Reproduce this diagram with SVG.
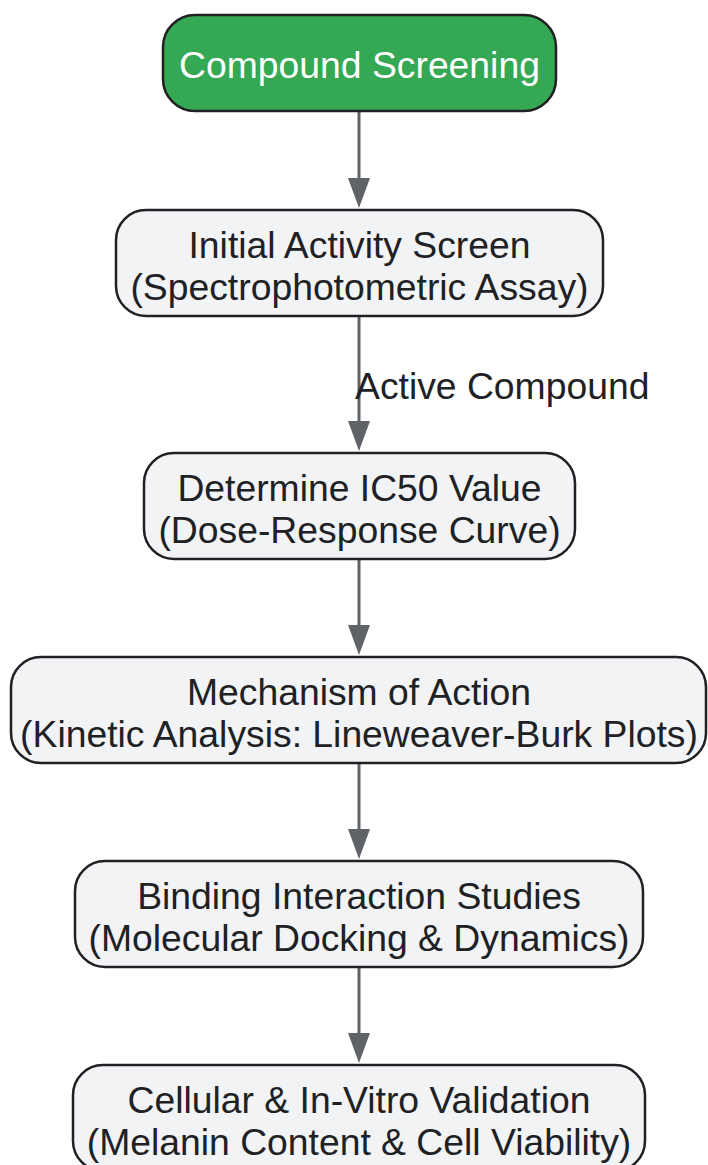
<svg xmlns="http://www.w3.org/2000/svg" width="708" height="1165" viewBox="0 0 708 1165">
<style>
.node rect{fill:#f1f3f4;stroke:#202124;stroke-width:2.5}
.start rect{fill:#34a853;stroke:#202124;stroke-width:2.5}
text{font-family:"Liberation Sans",Arial,sans-serif;font-size:37.3px;fill:#202124;text-anchor:middle;dominant-baseline:central}
.start text{fill:#ffffff}
.edge{stroke:#5f6368;stroke-width:3;fill:none}
.head{fill:#5f6368}
.lbl{text-anchor:start}
</style>
<g id="connectors">
<path class="edge" d="M359,111 L359,178"/><path class="head" d="M348,178 L370,178 L359,208 Z"/>
<path class="edge" d="M359,316 L359,421"/><path class="head" d="M348,421 L370,421 L359,451 Z"/>
<path class="edge" d="M359,559 L359,625"/><path class="head" d="M348,625 L370,625 L359,655 Z"/>
<path class="edge" d="M359,763 L359,829"/><path class="head" d="M348,829 L370,829 L359,859 Z"/>
<path class="edge" d="M359,967 L359,1033"/><path class="head" d="M348,1033 L370,1033 L359,1063 Z"/>
<text class="lbl" x="355" y="386">Active Compound</text>
</g>
<g id="n1" class="start">
<rect x="163" y="15" width="393" height="96" rx="32"/>
<text x="359.5" y="65">Compound Screening</text>
</g>
<g id="n2" class="node">
<rect x="116" y="210" width="487" height="106" rx="30"/>
<text x="359.5" y="245">Initial Activity Screen</text>
<text x="359.5" y="287">(Spectrophotometric Assay)</text>
</g>
<g id="n3" class="node">
<rect x="144" y="453" width="431" height="106" rx="30"/>
<text x="359.5" y="488">Determine IC50 Value</text>
<text x="359.5" y="530">(Dose-Response Curve)</text>
</g>
<g id="n4" class="node">
<rect x="11" y="657" width="695" height="106" rx="30"/>
<text x="359" y="692">Mechanism of Action</text>
<text x="359" y="734">(Kinetic Analysis: Lineweaver-Burk Plots)</text>
</g>
<g id="n5" class="node">
<rect x="75" y="861" width="568" height="106" rx="30"/>
<text x="359" y="896">Binding Interaction Studies</text>
<text x="359" y="938">(Molecular Docking &amp; Dynamics)</text>
</g>
<g id="n6" class="node">
<rect x="73" y="1065" width="572" height="106" rx="30"/>
<text x="359" y="1100">Cellular &amp; In-Vitro Validation</text>
<text x="359" y="1142">(Melanin Content &amp; Cell Viability)</text>
</g>
</svg>
